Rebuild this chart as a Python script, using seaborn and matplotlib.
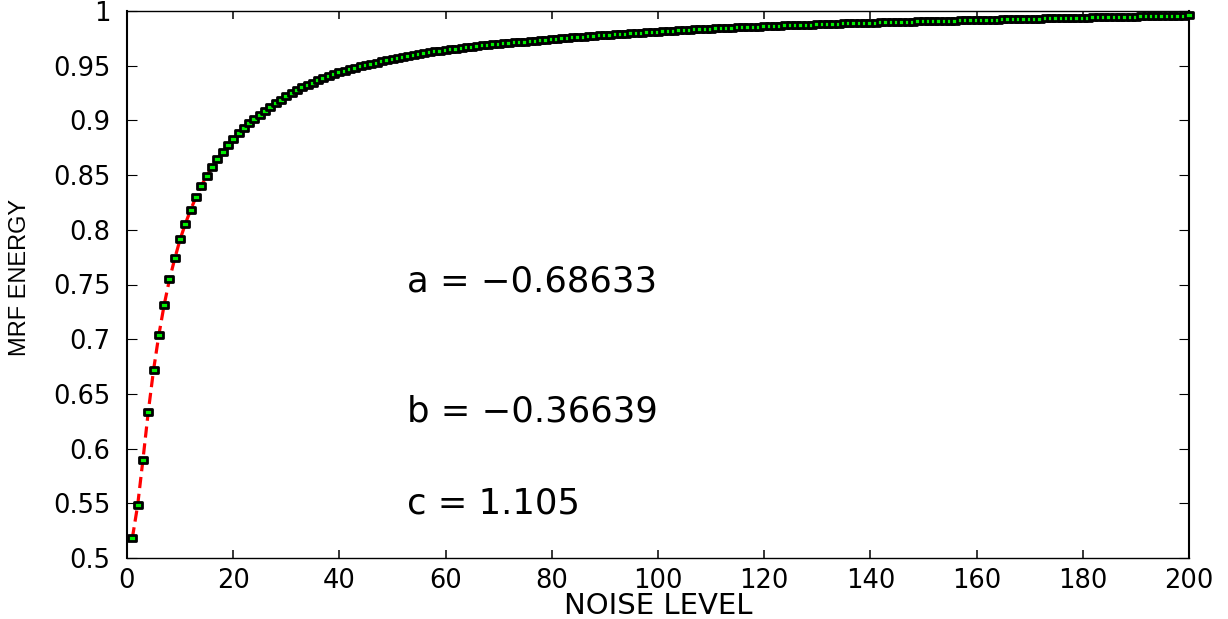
import matplotlib
matplotlib.use("Agg")
import matplotlib.pyplot as plt
import pandas as pd
import seaborn as sns
from matplotlib.path import Path

# ---------------- data ----------------
noise_level = list(range(1, 201))
mrf_energy = [
    0.5180, 0.5480, 0.5897, 0.6334, 0.6719, 0.7039, 0.7314, 0.7546, 0.7738, 0.7912,
    0.8056, 0.8184, 0.8300, 0.8402, 0.8493, 0.8573, 0.8645, 0.8711, 0.8773, 0.8832,
    0.8886, 0.8931, 0.8974, 0.9014, 0.9053, 0.9090, 0.9125, 0.9158, 0.9190, 0.9220,
    0.9249, 0.9276, 0.9301, 0.9324, 0.9346, 0.9367, 0.9387, 0.9406, 0.9423, 0.9439,
    0.9454, 0.9468, 0.9481, 0.9494, 0.9506, 0.9518, 0.9529, 0.9540, 0.9550, 0.9560,
    0.9570, 0.9579, 0.9588, 0.9597, 0.9606, 0.9614, 0.9622, 0.9630, 0.9637, 0.9644,
    0.9651, 0.9657, 0.9663, 0.9669, 0.9675, 0.9681, 0.9686, 0.9691, 0.9696, 0.9700,
    0.9705, 0.9709, 0.9713, 0.9717, 0.9721, 0.9725, 0.9729, 0.9733, 0.9737, 0.9741,
    0.9746, 0.9750, 0.9754, 0.9758, 0.9762, 0.9766, 0.9770, 0.9773, 0.9777, 0.9780,
    0.9784, 0.9787, 0.9791, 0.9794, 0.9797, 0.9800, 0.9803, 0.9806, 0.9809, 0.9812,
    0.9815, 0.9818, 0.9821, 0.9824, 0.9826, 0.9829, 0.9831, 0.9834, 0.9836, 0.9839,
    0.9841, 0.9843, 0.9846, 0.9848, 0.9850, 0.9852, 0.9854, 0.9856, 0.9858, 0.9860,
    0.9862, 0.9864, 0.9866, 0.9868, 0.9870, 0.9871, 0.9873, 0.9875, 0.9876, 0.9878,
    0.9880, 0.9881, 0.9883, 0.9884, 0.9886, 0.9887, 0.9889, 0.9890, 0.9892, 0.9893,
    0.9894, 0.9896, 0.9897, 0.9898, 0.9900, 0.9901, 0.9902, 0.9904, 0.9905, 0.9906,
    0.9907, 0.9909, 0.9910, 0.9911, 0.9912, 0.9913, 0.9915, 0.9916, 0.9917, 0.9918,
    0.9919, 0.9920, 0.9921, 0.9922, 0.9923, 0.9925, 0.9926, 0.9927, 0.9928, 0.9929,
    0.9930, 0.9931, 0.9932, 0.9933, 0.9934, 0.9935, 0.9936, 0.9937, 0.9938, 0.9939,
    0.9940, 0.9941, 0.9942, 0.9943, 0.9944, 0.9945, 0.9946, 0.9947, 0.9948, 0.9949,
    0.9950, 0.9951, 0.9952, 0.9953, 0.9954, 0.9955, 0.9956, 0.9957, 0.9958, 0.9960,
]
x_ticks = [0, 20, 40, 60, 80, 100, 120, 140, 160, 180, 200]
x_tick_labels = ["0", "20", "40", "60", "80", "100", "120", "140", "160", "180", "200"]
y_ticks = [0.5, 0.55, 0.6, 0.65, 0.7, 0.75, 0.8, 0.85, 0.9, 0.95, 1.0]
y_tick_labels = ["0.5", "0.55", "0.6", "0.65", "0.7", "0.75", "0.8", "0.85", "0.9", "0.95", "1"]
fit_labels = ["a = \u22120.68633", "b = \u22120.36639", "c = 1.105"]
fit_label_y = [0.7436, 0.6248, 0.5410]
x_label = "NOISE LEVEL"
y_label = "MRF ENERGY"

# ---------------- style ----------------
sns.set_theme(style="white")
plt.rcParams["font.family"] = ["DejaVu Sans"]
plt.rcParams["axes.unicode_minus"] = True

W, H = 1228, 619
fig = plt.figure(figsize=(W / 100, H / 100), dpi=100)
fig.patch.set_facecolor("white")
ax = fig.add_axes([127 / W, 1 - 558 / H, (1189 - 127) / W, (558 - 11) / H])
ax.set_facecolor("white")

df = pd.DataFrame({"noise": noise_level, "energy": mrf_energy})

# red dashed curve
sns.lineplot(data=df, x="noise", y="energy", ax=ax, color="#ff0000",
             linewidth=2.3, zorder=2, legend=False)
ax.lines[-1].set_dashes((3.5, 1.8))

# green squares with black edges
rect = Path([(-1, -0.7), (1, -0.7), (1, 0.7), (-1, 0.7), (-1, -0.7)],
            [Path.MOVETO, Path.LINETO, Path.LINETO, Path.LINETO, Path.CLOSEPOLY])
sns.scatterplot(data=df, x="noise", y="energy", ax=ax, marker=rect,
                s=6.0 ** 2, color="#00ee00", edgecolor="black", linewidth=2.0,
                zorder=3, clip_on=False, legend=False)

ax.set_xlim(0, 200)
ax.set_ylim(0.5, 1.0)
ax.set_xticks(x_ticks)
ax.set_xticklabels(x_tick_labels)
ax.set_yticks(y_ticks)
ax.set_yticklabels(y_tick_labels)

ax.tick_params(axis="x", which="major", direction="in", length=5.5, width=1.1,
               top=True, bottom=True, pad=7, labelsize=18.5, color="black",
               labelcolor="black")
ax.tick_params(axis="y", which="major", direction="in", length=7.5, width=0.8,
               left=True, right=True, pad=12, labelsize=18.5, color="black",
               labelcolor="black")

for side in ["left", "right"]:
    ax.spines[side].set_visible(True)
    ax.spines[side].set_color("black")
    ax.spines[side].set_linewidth(1.5)
for side in ["top", "bottom"]:
    ax.spines[side].set_visible(True)
    ax.spines[side].set_color("black")
    ax.spines[side].set_linewidth(1.0)

ax.set_xlabel(x_label, fontsize=21, color="black")
ax.xaxis.set_label_coords(0.5, -0.062)
ax.set_ylabel(y_label, fontsize=17, color="black", family=["Liberation Sans", "DejaVu Sans"])
ax.yaxis.set_label_coords(-0.0904, 0.5137)

for lab, yv in zip(fit_labels, fit_label_y):
    ax.text(52.8, yv, lab, fontsize=25.5, ha="left", va="baseline", color="black")

ax.grid(False)
fig.savefig("out.png", dpi=100, facecolor="white")
